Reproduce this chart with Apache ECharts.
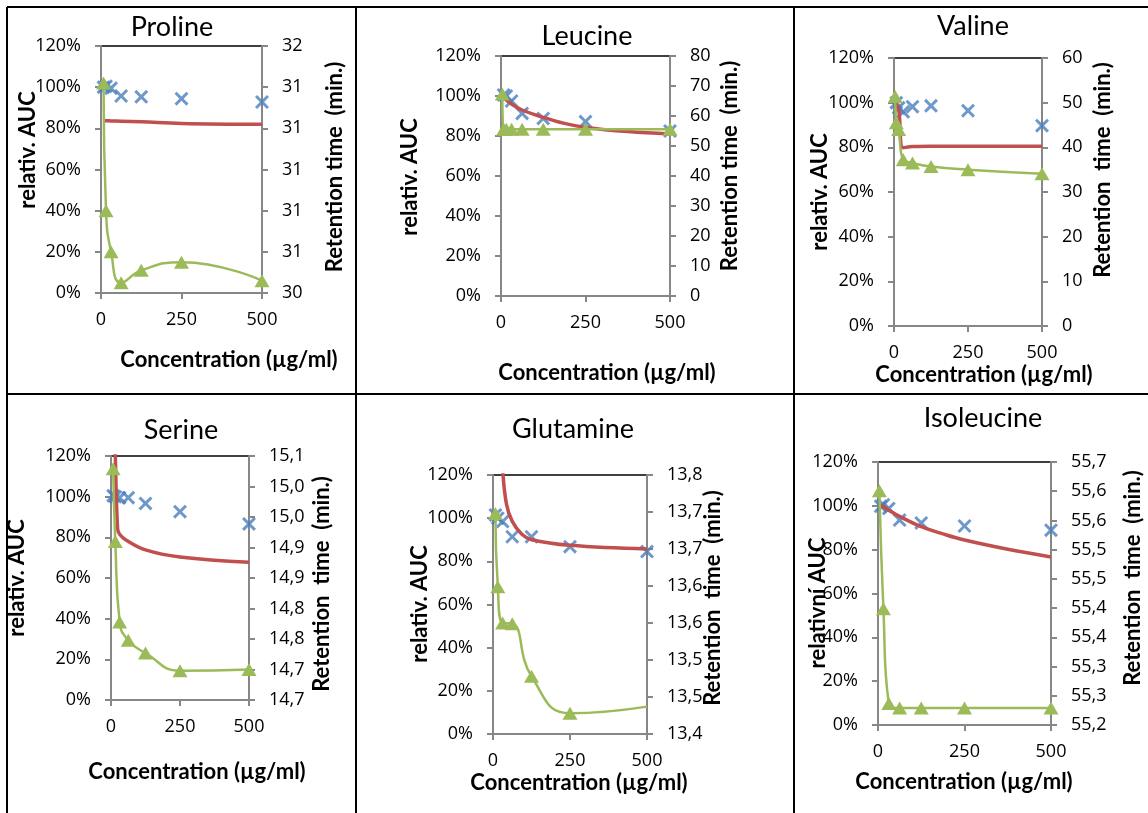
<!DOCTYPE html>
<html>
<head>
<meta charset="utf-8">
<script src="https://cdn.jsdelivr.net/npm/echarts@6/dist/echarts.min.js"></script>
<style>
html,body{margin:0;padding:0;background:#fff;}
#chart{width:1148px;height:813px;}
</style>
</head>
<body>
<div id="chart"></div>
<script>
// ---------- DATA ----------
const conc = [7.8, 15.6, 31.25, 62.5, 125, 250, 500];
const xTicks = [0, 250, 500];

// Proline
const prolineAUC = [100, 100.5, 99.5, 95.7, 95.3, 94.4, 92.8];
const prolineFitConc = [7.8, 15.6, 31.25, 62.5, 125, 250, 500];
const prolineFit = [83.7, 83.7, 83.6, 83.5, 83.2, 82.4, 82.0];
const prolineRTConc = [7.8, 15.6, 31.25, 62.5, 125, 250, 500];
const prolineRT = [31.42, 30.80, 30.60, 30.45, 30.51, 30.55, 30.46];

// Leucine
const leucineAUC = [100.5, 100, 97.5, 91.3, 88.8, 87.2, 82.5];
const leucineFitConc = [7.8, 31.25, 62.5, 125, 187.5, 250, 375, 500];
const leucineFit = [99, 96, 93, 89.3, 86.3, 84.3, 82.2, 81];
const leucineRTConc = [3.9, 7.8, 15.6, 31.25, 62.5, 125, 250, 500];
const leucineRT = [67.3, 55.6, 55.6, 55.6, 55.6, 55.6, 55.6, 55.6];

// Valine
const valineAUC = [100, 97.7, 95.9, 98.2, 98.6, 96.4, 89.7];
const valineFitConc = [3.9, 15.6, 31.25, 62.5, 125, 250, 500];
const valineFit = [100, 97, 79.8, 80.4, 80.5, 80.5, 80.5];
const valineRTConc = [3.9, 7.8, 15.6, 31.25, 62.5, 125, 250, 500];
const valineRT = [51.4, 45.5, 44.0, 37.2, 36.5, 35.7, 35.0, 34.1];

// Serine
const serineAUC = [100.5, 100, 99.5, 99.5, 96.7, 92.6, 86.6];
const serineFitConc = [10, 15.6, 24, 31.25, 54, 125, 250, 500];
const serineFit = [145, 120, 84, 81.5, 78.7, 73.8, 70.3, 67.7];
const serineRTConc = [7.8, 15.6, 31.25, 62.5, 125, 250, 500];
const serineRT = [15.029, 14.910, 14.778, 14.748, 14.727, 14.698, 14.700];

// Glutamine
const glutamineAUC = [101.5, 100, 98.4, 91.4, 91.4, 86.8, 84.5];
const glutamineFitConc = [25, 31.25, 43.75, 62.5, 93.75, 125, 250, 500];
const glutamineFit = [140, 122.5, 106.5, 98.5, 92.5, 90, 87.4, 85.7];
const glutamineRTConc = [7.8, 15.6, 31.25, 62.5, 125, 250, 500];
const glutamineRT = [13.698, 13.599, 13.550, 13.549, 13.478, 13.428, 13.437];

// Isoleucine
const isoleucineAUC = [99.8, 100.5, 98.8, 93.5, 92.2, 90.8, 88.9];
const isoleucineFitConc = [7.8, 31.25, 62.5, 125, 187.5, 250, 375, 500];
const isoleucineFit = [100.3, 98, 95.2, 90.5, 87.2, 84.4, 80.2, 76.7];
const isoleucineRTConc = [3.9, 15.6, 31.25, 62.5, 125, 250, 500];
const isoleucineRT = [55.601, 55.399, 55.237, 55.229, 55.229, 55.229, 55.229];

// Right axis ranges [min, max, interval, decimals]
const rightAxes = [
  [30.4, 31.6, 0.2, 0],
  [0, 80, 10, 0],
  [0, 60, 10, 0],
  [14.65, 15.05, 0.05, 1],
  [13.40, 13.75, 0.05, 1],
  [55.20, 55.65, 0.05, 1]
];

const titles = ['Proline', 'Leucine', 'Valine', 'Serine', 'Glutamine', 'Isoleucine'];
const leftNames = ['relativ. AUC', 'relativ. AUC', 'relativ. AUC', 'relativ. AUC', 'relativ. AUC', 'relativní AUC'];
const rightNames = ['Retention time  (min.)', 'Retention time  (min.)', 'Retention  time  (min.)', 'Retention  time  (min.)', 'Retention  time  (min.)', 'Retention  time  (min.)'];
const xName = 'Concentration (µg/ml)';

// ---------- LAYOUT ----------
const grids = [
  {left: 101, top: 46, width: 161, height: 247},
  {left: 501, top: 56, width: 169, height: 240},
  {left: 894, top: 58, width: 148, height: 268},
  {left: 111, top: 456, width: 138, height: 244},
  {left: 493, top: 475, width: 154, height: 259},
  {left: 878, top: 462, width: 173, height: 263}
];
const titlePos = [[172, 27], [587, 36], [973, 26], [181, 430], [573, 429], [983, 418]];
const xNamePos = [[229, 360], [607, 373], [984, 375], [197, 772], [579, 783], [964, 782]];
const leftNamePos = [[28, 150], [410, 177], [820, 192], [17, 578], [420, 604], [818, 603]];
const rightNamePos = [[335, 167], [730, 166], [1103, 170], [322, 584], [713, 598], [1133, 578]];

const panelData = [
  [prolineAUC, prolineFitConc, prolineFit, prolineRTConc, prolineRT],
  [leucineAUC, leucineFitConc, leucineFit, leucineRTConc, leucineRT],
  [valineAUC, valineFitConc, valineFit, valineRTConc, valineRT],
  [serineAUC, serineFitConc, serineFit, serineRTConc, serineRT],
  [glutamineAUC, glutamineFitConc, glutamineFit, glutamineRTConc, glutamineRT],
  [isoleucineAUC, isoleucineFitConc, isoleucineFit, isoleucineRTConc, isoleucineRT]
];

// ---------- STYLE ----------
const FONT = 'Lato, "Open Sans", sans-serif';
const NUM_FONT = '"Open Sans", Lato, sans-serif';
const AXIS_COLOR = '#878787';
const BLUE = '#4A7EBB', RED = '#C0504D', GREEN = '#9BBB59';
const crossPath = 'path://M0,1.5 L1.5,0 L5,3.5 L8.5,0 L10,1.5 L6.5,5 L10,8.5 L8.5,10 L5,6.5 L1.5,10 L0,8.5 L3.5,5 Z';

const zip = (xs, ys) => xs.map((x, i) => [x, ys[i]]);

const option = {
  animation: false,
  backgroundColor: '#fff',
  grid: [], xAxis: [], yAxis: [], series: [], graphic: []
};

grids.forEach((g, i) => {
  option.grid.push(Object.assign({show: true, borderColor: '#000', borderWidth: 1.5, backgroundColor: '#fff'}, g));
  option.xAxis.push({
    type: 'value', gridIndex: i, min: xTicks[0], max: xTicks[xTicks.length - 1], interval: xTicks[1] - xTicks[0],
    axisLine: {show: true, onZero: false, lineStyle: {color: AXIS_COLOR, width: 2}},
    axisTick: {show: true, inside: false, length: 6, lineStyle: {color: AXIS_COLOR, width: 2}},
    axisLabel: {margin: 18, fontFamily: NUM_FONT, fontSize: 18, color: '#000'},
    splitLine: {show: false}
  });
  option.yAxis.push({
    type: 'value', gridIndex: i, position: 'left', min: 0, max: 120, interval: 20,
    axisLine: {show: true, onZero: false, lineStyle: {color: AXIS_COLOR, width: 2}},
    axisTick: {show: true, length: 6, lineStyle: {color: AXIS_COLOR, width: 2}},
    axisLabel: {margin: 20, fontFamily: NUM_FONT, fontSize: 18, color: '#000', formatter: v => v + '%'},
    splitLine: {show: false}
  });
  const ra = rightAxes[i];
  option.yAxis.push({
    type: 'value', gridIndex: i, position: 'right', min: ra[0], max: ra[1], interval: ra[2],
    axisLine: {show: true, onZero: false, lineStyle: {color: AXIS_COLOR, width: 2}},
    axisTick: {show: true, length: 6, lineStyle: {color: AXIS_COLOR, width: 2}},
    axisLabel: {
      margin: 20, fontFamily: NUM_FONT, fontSize: 18, color: '#000',
      formatter: v => {
        const p = Math.pow(10, ra[3]);
        return (Math.round(v * p + 1e-6) / p).toFixed(ra[3]).replace('.', ',');
      }
    },
    splitLine: {show: false}
  });

  const [auc, fitX, fit, rtX, rt] = panelData[i];
  option.series.push({
    type: 'scatter', xAxisIndex: i, yAxisIndex: 2 * i, data: zip(conc, auc),
    symbol: crossPath, symbolSize: 14, itemStyle: {color: BLUE}, z: 3
  });
  option.series.push({
    type: 'line', xAxisIndex: i, yAxisIndex: 2 * i, data: zip(fitX, fit),
    symbol: 'none', smooth: 0.4, clip: true,
    lineStyle: {color: RED, width: 3.5}, z: 4
  });
  const rtData = zip(rtX, rt).map((d, k) => (i === 4 && k === rtX.length - 1) ? {value: d, symbol: 'none'} : d);
  option.series.push({
    type: 'line', xAxisIndex: i, yAxisIndex: 2 * i + 1, data: rtData,
    symbol: 'triangle', symbolSize: [15, 13], smooth: 0.5, clip: false,
    itemStyle: {color: GREEN}, lineStyle: {color: GREEN, width: 2.5}, z: 5
  });

  const txt = (pos, text, font, rot) => ({
    type: 'text', x: pos[0], y: pos[1], rotation: rot || 0, z: 100,
    style: {text: text, font: font, fill: '#000', align: 'center', verticalAlign: 'middle'}
  });
  option.graphic.push(txt(titlePos[i], titles[i], '27px ' + FONT));
  option.graphic.push(txt(xNamePos[i], xName, 'bold 22px ' + FONT));
  option.graphic.push(txt(leftNamePos[i], leftNames[i], 'bold 22px ' + FONT, Math.PI / 2));
  option.graphic.push(txt(rightNamePos[i], rightNames[i], 'bold 22px ' + FONT, Math.PI / 2));
});

// table frame
const frameLines = [
  [7, 7, 1148, 7], [7, 394, 1148, 394],
  [7, 7, 7, 813], [356, 7, 356, 813], [794, 7, 794, 813]
];
frameLines.forEach(l => option.graphic.push({
  type: 'line', z: 90, shape: {x1: l[0], y1: l[1], x2: l[2], y2: l[3]},
  style: {stroke: '#000', lineWidth: 2}
}));

const chart = echarts.init(document.getElementById('chart'), null, {renderer: 'canvas'});
chart.setOption(option);
</script>
</body>
</html>
